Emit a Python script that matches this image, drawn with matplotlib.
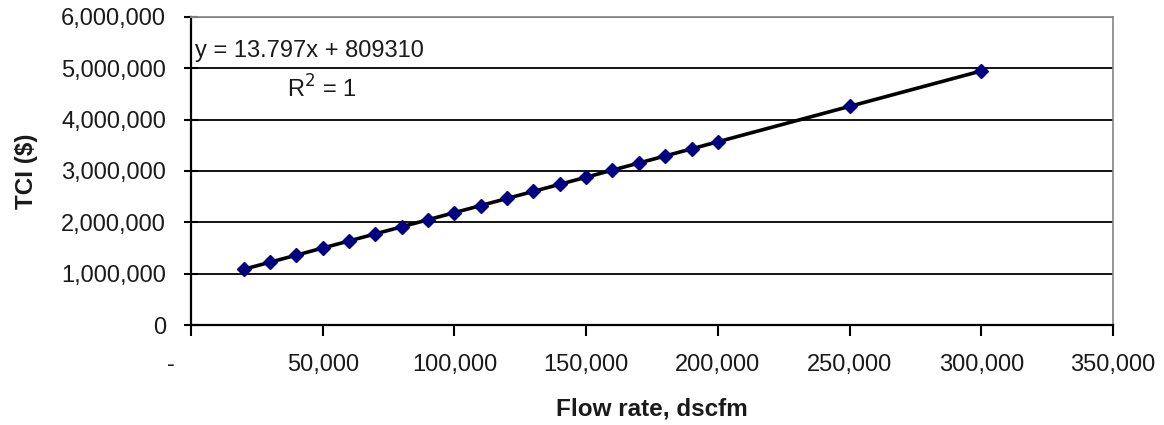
import numpy as np
import matplotlib
matplotlib.use("Agg")
import matplotlib.pyplot as plt
from matplotlib.ticker import FuncFormatter, MultipleLocator

flow_rate = [20000, 30000, 40000, 50000, 60000, 70000, 80000, 90000, 100000,
             110000, 120000, 130000, 140000, 150000, 160000, 170000, 180000,
             190000, 200000, 250000, 300000]
tci = [1085000, 1223000, 1361000, 1499000, 1637000, 1775000, 1913000,
       2051000, 2189000, 2327000, 2465000, 2603000, 2741000, 2879000,
       3017000, 3155000, 3293000, 3431000, 3569000, 4259000, 4949000]
equation_text = "y = 13.797x + 809310"
r2_text = "R$^2$ = 1"
x_label = "Flow rate, dscfm"
y_label = "TCI ($)"

plt.rcParams['font.family'] = ['Liberation Sans', 'DejaVu Sans']

fig = plt.figure(figsize=(11.64, 4.25), dpi=100)
ax = fig.add_axes([191/1164, 1 - 325/425, 922/1164, 308/425])

txtc = '#1a1a1a'
x = np.array(flow_rate, dtype=float)
y = np.array(tci, dtype=float)
coef = np.polyfit(x, y, 1)
xl = np.array([x.min(), x.max()])
ax.plot(xl, np.polyval(coef, xl), color='black', lw=2.6, zorder=3)
ax.plot(x, y, linestyle='none', marker='D', ms=7.5, color='#000080',
        markeredgecolor='#000080', zorder=4)

ax.set_xlim(0, 350000)
ax.set_ylim(0, 6000000)
ax.xaxis.set_major_locator(MultipleLocator(50000))
ax.yaxis.set_major_locator(MultipleLocator(1000000))
ax.xaxis.set_major_formatter(FuncFormatter(lambda v, p: '-' + ' ' * 6 if v == 0 else f"{int(v):,}"))
ax.yaxis.set_major_formatter(FuncFormatter(lambda v, p: f"{int(v):,}"))

ax.grid(axis='y', color='black', lw=1.3)
ax.set_axisbelow(True)
for s in ['top', 'right']:
    ax.spines[s].set_color('#8c8c8c')
    ax.spines[s].set_linewidth(1.3)
for s in ['left', 'bottom']:
    ax.spines[s].set_color('black')
    ax.spines[s].set_linewidth(1.6)

ax.tick_params(axis='y', direction='inout', length=10, width=1.5, pad=13,
               labelsize=17, labelcolor=txtc)
ax.tick_params(axis='x', direction='out', length=8, width=1.5, pad=13,
               labelsize=17, labelcolor=txtc)

ax.set_xlabel(x_label, fontsize=17.5, fontweight='bold', color=txtc)
ax.xaxis.set_label_coords(0.5, -0.235)
ax.set_ylabel(y_label, fontsize=17.5, fontweight='bold', color=txtc)
ax.yaxis.set_label_coords(-0.166, 0.5)

ax.text(0.004, 0.89, equation_text, transform=ax.transAxes, fontsize=17,
        color=txtc, ha='left', va='center')
ax.text(0.104, 0.765, r2_text, transform=ax.transAxes, fontsize=17,
        color=txtc, ha='left', va='center')

fig.savefig("out.png", dpi=100)
